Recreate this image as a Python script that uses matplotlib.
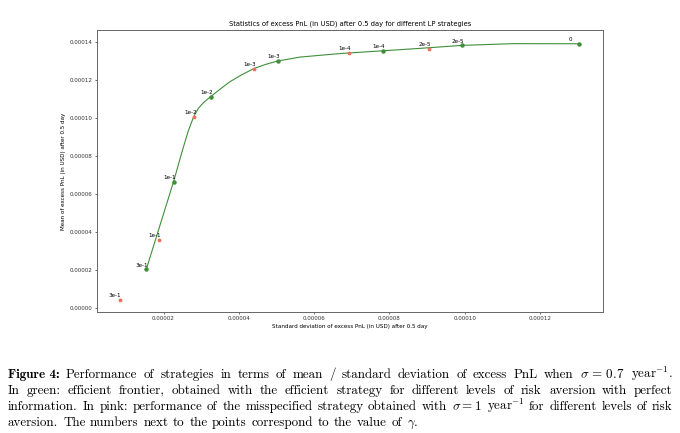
import math
import matplotlib
matplotlib.use("Agg")
import matplotlib.pyplot as plt
import matplotlib.ticker as mticker
from matplotlib.transforms import IdentityTransform
from matplotlib.font_manager import FontProperties, fontManager, get_font
from matplotlib.backends.backend_agg import get_hinting_flag

plt.rcParams['mathtext.fontset'] = 'cm'

# efficient strategy (green), labels are gamma values
eff_gamma = ['3e-1', '1e-1', '1e-2', '1e-3', '1e-4', '2e-5', '0']
eff_std = [1.54e-5, 2.27e-5, 3.25e-5, 5.03e-5, 7.84e-5, 9.94e-5, 1.304e-4]
eff_mean = [2.04e-5, 6.65e-5, 1.113e-4, 1.301e-4, 1.356e-4, 1.384e-4, 1.392e-4]

# misspecified strategy (pink)
mis_gamma = ['3e-1', '1e-1', '1e-2', '1e-3', '1e-4', '2e-5']
mis_std = [8.3e-6, 1.87e-5, 2.82e-5, 4.40e-5, 6.93e-5, 9.05e-5]
mis_mean = [4.2e-6, 3.58e-5, 1.009e-4, 1.261e-4, 1.345e-4, 1.367e-4]

# efficient frontier curve
front_std = [1.541e-5, 2.265e-5, 2.504e-5, 2.656e-5, 2.796e-5, 2.921e-5, 3.062e-5,
             3.248e-5, 3.505e-5, 3.771e-5, 4.063e-5, 4.400e-5, 4.700e-5, 5.026e-5,
             5.629e-5, 6.691e-5, 7.840e-5, 8.814e-5, 9.937e-5, 1.1283e-4, 1.3035e-4]
front_mean = [2.039e-5, 6.654e-5, 8.325e-5, 9.326e-5, 1.0063e-4, 1.0511e-4, 1.0827e-4,
              1.1133e-4, 1.1538e-4, 1.1934e-4, 1.2276e-4, 1.2619e-4, 1.2829e-4, 1.3014e-4,
              1.3224e-4, 1.3409e-4, 1.3556e-4, 1.3683e-4, 1.3841e-4, 1.3930e-4, 1.3925e-4]

W, H = 680, 433
fig = plt.figure(figsize=(W / 100, H / 100), dpi=100)
ax = fig.add_axes([97 / W, 1 - 312 / H, (602.5 - 97) / W, (312 - 30) / H])

ax.plot(front_std, front_mean, color='#3f8f3a', lw=0.8)
ax.plot(eff_std, eff_mean, 'o', color='#3f8f3a', ms=2.2, ls='none')
ax.plot(mis_std, mis_mean, '*', color='#f07060', ms=2.5, ls='none')

for g, x, y in zip(eff_gamma, eff_std, eff_mean):
    ax.annotate(g, (x, y), xytext=(-7.6, 1.2), textcoords='offset points',
                fontsize=4.1, ha='left', va='bottom')
for g, x, y in zip(mis_gamma, mis_std, mis_mean):
    ax.annotate(g, (x, y), xytext=(-7.6, 1.2), textcoords='offset points',
                fontsize=4.1, ha='left', va='bottom')

ax.set_xlim(2.32e-6, 1.366e-4)
ax.set_ylim(-2.1e-6, 1.465e-4)
ax.xaxis.set_major_locator(mticker.MultipleLocator(2e-5))
ax.yaxis.set_major_locator(mticker.MultipleLocator(2e-5))
ax.xaxis.set_major_formatter(mticker.FormatStrFormatter('%.5f'))
ax.yaxis.set_major_formatter(mticker.FormatStrFormatter('%.5f'))
ax.tick_params(labelsize=4.1, length=1.6, width=0.5, pad=1.5, colors='#333333')
for s in ax.spines.values():
    s.set_linewidth(0.7)
    s.set_color('#666666')

ax.set_title("Statistics of excess PnL (in USD) after 0.5 day for different LP strategies",
             fontsize=4.9, pad=3)
ax.set_xlabel("Standard deviation of excess PnL (in USD) after 0.5 day", fontsize=4.1, labelpad=2)
ax.set_ylabel("Mean of excess PnL (in USD) after 0.5 day", fontsize=4.1, labelpad=3)

# caption, justified like the LaTeX source (one text per word)
cap_size = 9.4
R = 'cmr10'
line1 = ([("Figure 4:", 'cmb10')]
         + [(w, R) for w in "Performance of strategies in terms of mean / standard deviation "
            "of excess PnL when".split()]
         + [(r"$\sigma\,=\,0.7$", R), (r"year$^{-1}$.", R)])
line2 = [(w, R) for w in "In green: efficient frontier, obtained with the efficient strategy "
         "for different levels of risk aversion with perfect".split()]
line3 = ([(w, R) for w in "information. In pink: performance of the misspecified strategy "
          "obtained with".split()]
         + [(r"$\sigma = 1$", R), (r"year$^{-1}$", R)]
         + [(w, R) for w in "for different levels of risk".split()])
line4 = ([(w, R) for w in "aversion. The numbers next to the points correspond to the "
          "value of".split()] + [(r"$\gamma$.", R)])
# (words, baseline from top in px, right edge in px)
caption = [(line1, 378, 673.0), (line2, 394, 673.0), (line3, 410, 673.0), (line4, 426, 418.0)]
x_left = 8.5


def baseline_shift(s, fam, base):
    # Agg snaps each word's bitmap to whole pixels; undo the 1px jitter
    if '$' in s:
        return 0
    font = get_font(fontManager._find_fonts_by_props(FontProperties(family=fam)))
    font.clear()
    font.set_size(cap_size, fig.dpi)
    font.set_text(s, 0, flags=get_hinting_flag())
    h = font.get_width_height()[1]
    d = font.get_descent() / 64.0
    yo = font.get_bitmap_offset()[1] / 64.0
    row = round(base + yo + d) - h // 64 + math.floor(h / 64.0 - d)
    return max(-1, min(1, base - row))


renderer = fig.canvas.get_renderer()
for tokens, base, x_right in caption:
    objs = [fig.text(0, H - base, s, fontsize=cap_size, family=f, va='baseline',
                     transform=IdentityTransform()) for s, f in tokens]
    widths = [t.get_window_extent(renderer).width for t in objs]
    gap = (x_right - x_left - sum(widths)) / (len(objs) - 1)
    x = x_left
    for t, w, (s, f) in zip(objs, widths, tokens):
        t.set_x(round(x))
        t.set_y(H - base - baseline_shift(s, f, base))
        x += w + gap

fig.savefig("out.png", dpi=100)
